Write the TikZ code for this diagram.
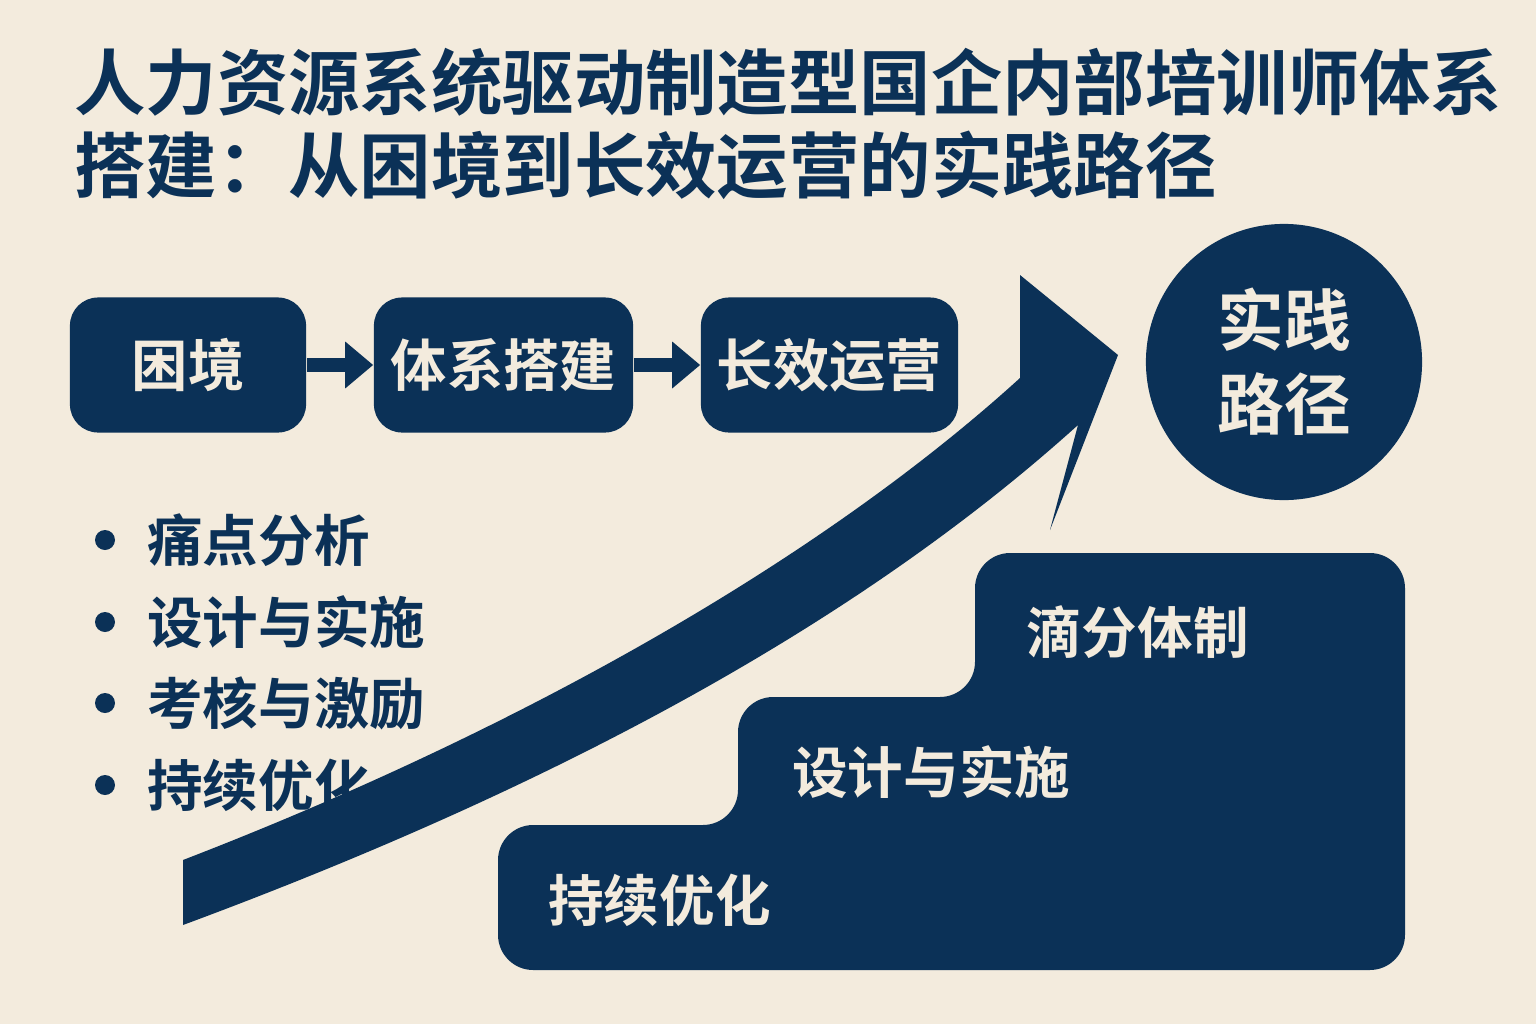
\documentclass[tikz,border=0pt]{standalone}
\usepackage{fontspec}
\setmainfont{Noto Sans CJK SC}[BoldFont={Noto Sans CJK SC Bold}]
\usetikzlibrary{positioning, arrows.meta}
\definecolor{bgcream}{HTML}{F3EBDD}
\definecolor{navyblue}{HTML}{0B3157}
\definecolor{lighttext}{HTML}{F3EBDD}
\tikzset{
  stagebox/.style={fill=navyblue, rounded corners=8, minimum height=1.35cm, inner sep=0pt, text=lighttext, font=\fontsize{16}{16}\selectfont\bfseries},
  flowarrow/.style={navyblue, line width=4pt, -{Triangle[length=0.28cm, width=0.45cm]}},
  bulletitem/.style={anchor=west, text=navyblue, font=\fontsize{15.8}{15.8}\selectfont\bfseries},
  steplabel/.style={anchor=west, text=lighttext, font=\fontsize{15.8}{15.8}\selectfont\bfseries}
}
\begin{document}
\begin{tikzpicture}[x=0.01cm, y=-0.01cm]
  % Background
  \fill[bgcream] (0,0) rectangle (1536,1024);
  \useasboundingbox (0,0) rectangle (1536,1024);

  % Title
  \node[anchor=west, text=navyblue, font=\fontsize{20.3}{20.3}\selectfont\bfseries] (title1) at (62,82) {人力资源系统驱动制造型国企内部培训师体系};
  \node[anchor=west, text=navyblue, font=\fontsize{20.3}{20.3}\selectfont\bfseries] (title2) at (62,165) {搭建：从困境到长效运营的实践路径};

  % Rising arrow (behind texts)
  \fill[navyblue] (183,860) .. controls (520,730) and (820,560) .. (1020,378) -- (1020,275) -- (1118,355) -- (1050,530) -- (1078,425)
    .. controls (840,640) and (520,800) .. (183,925) -- cycle;

  % Stage boxes
  \node[stagebox, minimum width=2.36cm] (plight) at (188,365) {困境};
  \node[stagebox, minimum width=2.59cm] (build) at (503.5,365) {体系搭建};
  \node[stagebox, minimum width=2.57cm] (operate) at (829.5,365) {长效运营};
  \draw[flowarrow] (plight) -- (build);
  \draw[flowarrow] (build) -- (operate);

  % Practice circle
  \node[circle, fill=navyblue, minimum size=2.76cm, text=lighttext, align=center, font=\fontsize{19}{24}\selectfont\bfseries] (path) at (1284,362) {实践\\路径};

  % Bullet list
  \foreach \y/\txt [count=\i] in {540/痛点分析, 622/设计与实施, 703/考核与激励, 785/持续优化} {
    \fill[navyblue] (105,\y) circle (10);
    \node[bulletitem] (item\i) at (135,\y) {\txt};
  }

  % Steps
  \fill[navyblue, rounded corners=10] (498,970) -- (498,825) -- (738,825) -- (738,697) -- (975,697) -- (975,553) -- (1405,553) -- (1405,970) -- cycle;
  \node[steplabel] (step3) at (1014,632) {滴分体制};
  \node[steplabel] (step2) at (780,772) {设计与实施};
  \node[steplabel] (step1) at (536,900) {持续优化};
\end{tikzpicture}
\end{document}
